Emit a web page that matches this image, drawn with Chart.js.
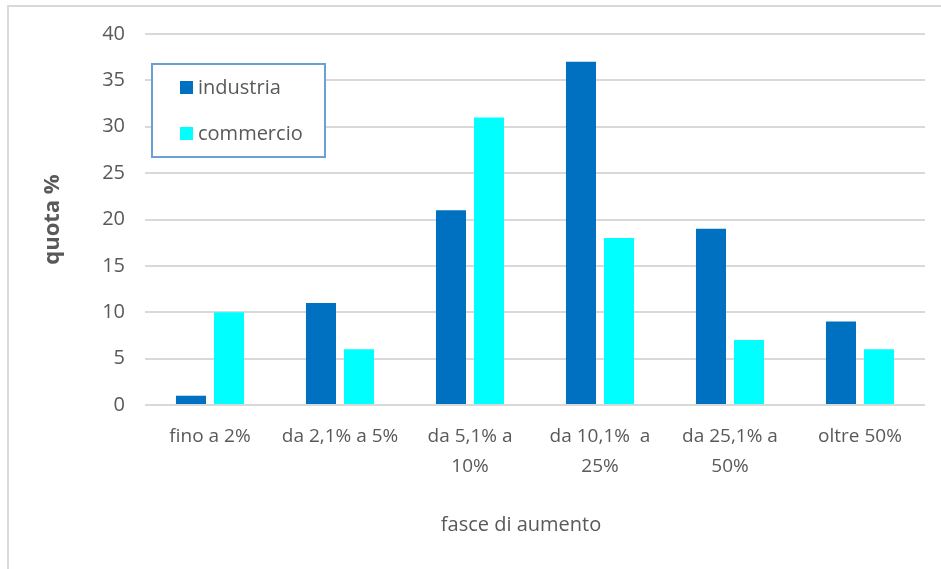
<!DOCTYPE html>
<html>
<head>
<meta charset="utf-8">
<script src="https://cdn.jsdelivr.net/npm/chart.js@4/dist/chart.umd.min.js"></script>
<style>
html,body{margin:0;padding:0;background:#fff;}
#wrap{position:relative;width:941px;height:569px;}
</style>
</head>
<body>
<div id="wrap"><canvas id="c" width="941" height="569"></canvas></div>
<script>
const categories = [["fino a 2%"], ["da 2,1% a 5%"], ["da 5,1% a", "10%"], ["da 10,1%  a", "25%"], ["da 25,1% a", "50%"], ["oltre 50%"]];
const industria = [1, 11, 21, 37, 19, 9];
const commercio = [10, 6, 31, 18, 7, 6];
const seriesNames = ["industria", "commercio"];
const yTicks = [0, 5, 10, 15, 20, 25, 30, 35, 40];
const xTitle = "fasce di aumento";
const yTitle = "quota %";

const FONT = "'Open Sans', sans-serif";
const GRAY = "#595959";

const frame = {
  id: 'frame',
  beforeDraw(chart) {
    const ctx = chart.ctx;
    ctx.save();
    ctx.fillStyle = '#fff';
    ctx.fillRect(0, 0, chart.width, chart.height);
    ctx.strokeStyle = '#d9d9d9';
    ctx.lineWidth = 2;
    ctx.beginPath();
    ctx.moveTo(8, chart.height);
    ctx.lineTo(8, 6);
    ctx.lineTo(chart.width, 6);
    ctx.stroke();
    ctx.restore();
  }
};

const xTitlePlugin = {
  id: 'xTitlePlugin',
  afterDraw(chart) {
    const ctx = chart.ctx;
    ctx.save();
    ctx.font = "20px " + FONT;
    ctx.fillStyle = GRAY;
    ctx.textAlign = 'center';
    ctx.textBaseline = 'middle';
    ctx.fillText(xTitle, 521, 525);
    ctx.restore();
  }
};

const boxLegend = {
  id: 'boxLegend',
  afterDraw(chart) {
    const ctx = chart.ctx;
    ctx.save();
    ctx.fillStyle = '#fff';
    ctx.fillRect(152, 64, 173, 93);
    ctx.strokeStyle = '#6a9fd8';
    ctx.lineWidth = 2;
    ctx.strokeRect(152, 64, 173, 93);
    ctx.font = "20px " + FONT;
    ctx.textBaseline = 'middle';
    chart.data.datasets.forEach((ds, i) => {
      const cy = 87 + i * 46;
      ctx.fillStyle = ds.backgroundColor;
      ctx.fillRect(180, cy - 6, 13, 13);
      ctx.fillStyle = GRAY;
      ctx.fillText(ds.label, 198, cy + 1);
    });
    ctx.restore();
  }
};

new Chart(document.getElementById('c'), {
  type: 'bar',
  data: {
    labels: categories,
    datasets: [
      { label: seriesNames[0], data: industria, backgroundColor: '#0070C0', categoryPercentage: 0.585, barPercentage: 0.79 },
      { label: seriesNames[1], data: commercio, backgroundColor: '#00FFFF', categoryPercentage: 0.585, barPercentage: 0.79 }
    ]
  },
  options: {
    responsive: false,
    animation: false,
    devicePixelRatio: 1,
    layout: { padding: { top: 34, right: 16, left: 0, bottom: 0 } },
    plugins: {
      legend: { display: false },
      tooltip: { enabled: false }
    },
    scales: {
      x: {
        grid: { display: false },
        border: { display: false },
        ticks: { color: GRAY, font: { family: FONT, size: 19, lineHeight: 1.55 }, padding: 9, maxRotation: 0, autoSkip: false },
        afterFit(s) { s.height = 164; }
      },
      y: {
        min: 0, max: 40,
        afterBuildTicks(s) { s.ticks = yTicks.map(v => ({ value: v })); },
        grid: { color: '#d9d9d9', lineWidth: 2, drawTicks: false },
        border: { display: false },
        ticks: { color: GRAY, font: { family: FONT, size: 20 }, padding: 20 },
        title: { display: true, text: yTitle, color: GRAY, font: { family: FONT, size: 22, weight: 'bold' }, padding: { top: 40, bottom: 0 } },
        afterFit(s) { s.width = 145; }
      }
    }
  },
  plugins: [frame, boxLegend, xTitlePlugin]
});
</script>
</body>
</html>
